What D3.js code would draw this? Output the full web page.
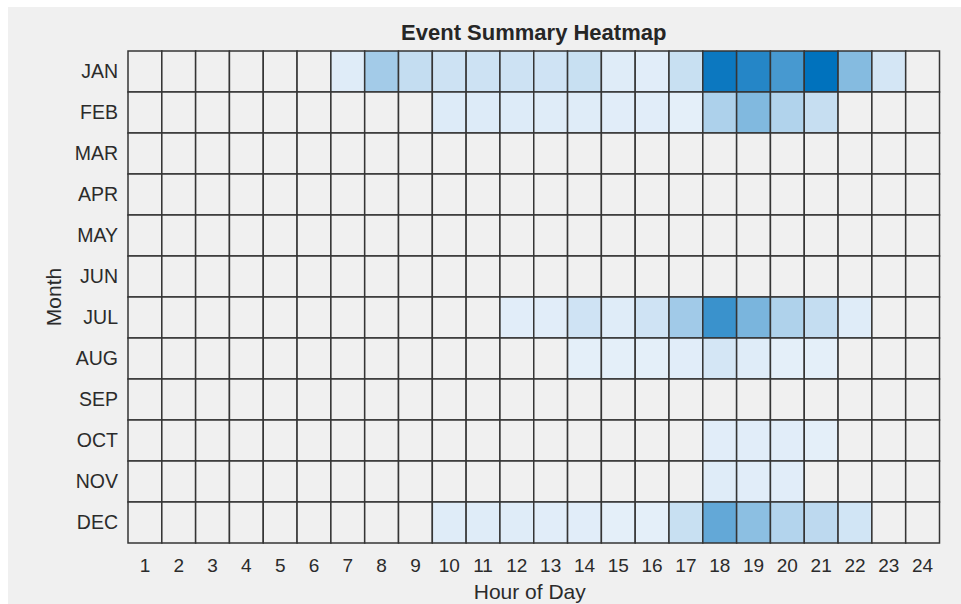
<!DOCTYPE html>
<html>
<head>
<meta charset="utf-8">
<script src="https://cdn.jsdelivr.net/npm/d3@7"></script>
<style>
  html, body { margin: 0; padding: 0; background: #ffffff; }
  svg { display: block; font-family: "Liberation Sans", Arial, Helvetica, sans-serif; }
</style>
</head>
<body>
<svg id="chart" width="961" height="604"></svg>
<script>
// ---- data ----
const months = ["JAN","FEB","MAR","APR","MAY","JUN","JUL","AUG","SEP","OCT","NOV","DEC"];
const hours = ["1","2","3","4","5","6","7","8","9","10","11","12","13","14","15","16","17","18","19","20","21","22","23","24"];
// event counts per hour (0 = no events)
const jan = [0,0,0,0,0,0, 3,29,15,11,11,11,10,13, 3, 2,13,95,84,69,100,42, 8,0];
const feb = [0,0,0,0,0,0, 0, 0, 0, 4, 4, 4, 3, 3, 2, 2, 1,25,44,23,14, 0, 0,0];
const mar = [0,0,0,0,0,0, 0, 0, 0, 0, 0, 0, 0, 0, 0, 0, 0, 0, 0, 0, 0, 0, 0,0];
const apr = [0,0,0,0,0,0, 0, 0, 0, 0, 0, 0, 0, 0, 0, 0, 0, 0, 0, 0, 0, 0, 0,0];
const may = [0,0,0,0,0,0, 0, 0, 0, 0, 0, 0, 0, 0, 0, 0, 0, 0, 0, 0, 0, 0, 0,0];
const jun = [0,0,0,0,0,0, 0, 0, 0, 0, 0, 0, 0, 0, 0, 0, 0, 0, 0, 0, 0, 0, 0,0];
const jul = [0,0,0,0,0,0, 0, 0, 0, 0, 0, 2, 2,10, 3,10,30,75,47,24,15, 3, 0,0];
const aug = [0,0,0,0,0,0, 0, 0, 0, 0, 0, 0, 0, 1, 1, 1, 2, 8, 3, 1, 1, 0, 0,0];
const sep = [0,0,0,0,0,0, 0, 0, 0, 0, 0, 0, 0, 0, 0, 0, 0, 0, 0, 0, 0, 0, 0,0];
const oct = [0,0,0,0,0,0, 0, 0, 0, 0, 0, 0, 0, 0, 0, 0, 0, 2, 2, 2, 1, 0, 0,0];
const nov = [0,0,0,0,0,0, 0, 0, 0, 0, 0, 0, 0, 0, 0, 0, 0, 3, 2, 2, 0, 0, 0,0];
const dec = [0,0,0,0,0,0, 0, 0, 0, 3, 3, 3, 2, 2, 1, 1,13,57,39,22,18, 9, 0,0];
const monthValues = [jan, feb, mar, apr, may, jun, jul, aug, sep, oct, nov, dec];
const titleText = "Event Summary Heatmap";
const xLabel = "Hour of Day";
const yLabel = "Month";

// ---- build cells ----
const cells = [];
months.forEach((m, i) => {
  monthValues[i].forEach((v, j) => cells.push({ month: m, hour: hours[j], value: v }));
});

const svg = d3.select("#chart");
const W = 961, H = 604;

// figure background
svg.append("rect").attr("x", 0).attr("y", 0).attr("width", W).attr("height", H).attr("fill", "#ffffff");
svg.append("rect").attr("x", 8).attr("y", 7).attr("width", W - 8).attr("height", H - 7).attr("fill", "#f0f0f0");

const gLeft = 128, gRight = 939.5, gTop = 51, gBottom = 543;

const x = d3.scaleBand().domain(hours).range([gLeft, gRight]).padding(0);
const y = d3.scaleBand().domain(months).range([gTop, gBottom]).padding(0);

const maxV = d3.max(cells, d => d.value);
const color = d3.scaleLinear()
  .domain([0, maxV])
  .range(["rgb(230,240,250)", "rgb(0,114,189)"])
  .interpolate(d3.interpolateRgb);

svg.append("g")
  .selectAll("rect")
  .data(cells)
  .join("rect")
  .attr("x", d => x(d.hour))
  .attr("y", d => y(d.month))
  .attr("width", x.bandwidth())
  .attr("height", y.bandwidth())
  .attr("fill", d => d.value > 0 ? color(d.value) : "#f0f0f0")
  .attr("stroke", "#353535")
  .attr("stroke-width", 1.5);

// axes
const xAxis = svg.append("g")
  .attr("transform", `translate(0,${gBottom})`)
  .call(d3.axisBottom(x).tickSize(0).tickPadding(16));
xAxis.select(".domain").remove();
xAxis.selectAll("text").attr("font-size", 19).attr("fill", "#2b2b2b")
  .attr("font-family", "'Liberation Sans', Arial, sans-serif");

const yAxis = svg.append("g")
  .attr("transform", `translate(${gLeft},0)`)
  .call(d3.axisLeft(y).tickSize(0).tickPadding(10));
yAxis.select(".domain").remove();
yAxis.selectAll("text").attr("font-size", 19.5).attr("fill", "#2b2b2b")
  .attr("font-family", "'Liberation Sans', Arial, sans-serif");

// title
svg.append("text")
  .attr("x", (gLeft + gRight) / 2)
  .attr("y", 40)
  .attr("text-anchor", "middle")
  .attr("font-size", 22)
  .attr("font-weight", "bold")
  .attr("fill", "#262626")
  .text(titleText);

// x label
svg.append("text")
  .attr("x", (gLeft + gRight) / 2 - 4)
  .attr("y", 599)
  .attr("text-anchor", "middle")
  .attr("font-size", 21)
  .attr("fill", "#2b2b2b")
  .text(xLabel);

// y label
svg.append("text")
  .attr("transform", `translate(61,${(gTop + gBottom) / 2}) rotate(-90)`)
  .attr("text-anchor", "middle")
  .attr("font-size", 21)
  .attr("fill", "#2b2b2b")
  .text(yLabel);
</script>
</body>
</html>
